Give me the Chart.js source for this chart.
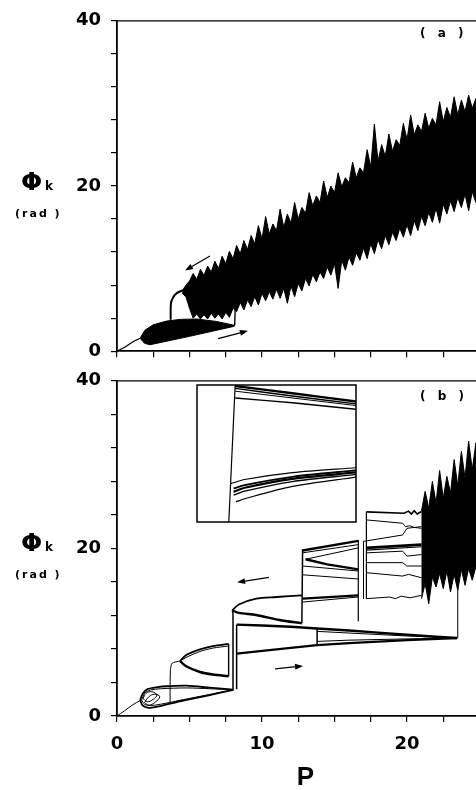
<!DOCTYPE html>
<html>
<head>
<meta charset="utf-8">
<title>Phi_k vs P</title>
<script src="https://cdn.jsdelivr.net/npm/chart.js@4.4.1/dist/chart.umd.min.js"></script>
<style>
  html, body { margin: 0; padding: 0; background: #fff; width: 476px; height: 790px; overflow: hidden; }
  canvas { position: absolute; }
  #chartA { left: 0; top: 0; }
  #chartB { left: 0; top: 360px; }
  #chartInset { left: 196px; top: 384px; }
</style>
</head>
<body>
<canvas id="chartA" width="560" height="372"></canvas>
<canvas id="chartB" width="560" height="430"></canvas>
<canvas id="chartInset" width="161" height="139"></canvas>
<script>
// tick labels
const yTickLabels = [0, 20, 40];
const xTickLabels = [0, 10, 20];

// ---- panel (a): [P, Phi_k] ----
const aRise = [[0, 0], [0.5, 0.45], [1.1, 1.15], [1.59, 1.56]];
const aLensTop = [[1.59, 1.56], [1.93, 2.55], [2.5, 3.2], [3.43, 3.65], [4.34, 3.85], [5.5, 3.9], [6.87, 3.6], [8.05, 3.15]];
const aLensBottom = [[1.59, 1.56], [1.9, 0.95], [2.28, 0.78], [5.0, 1.8], [8.05, 3.0]];
const aHump = [[3.7, 3.8], [3.72, 5.8], [3.85, 6.45], [4.1, 7.0], [4.5, 7.35], [5.0, 7.6]];
const aStep = [[8.05, 3.1], [8.12, 3.2], [8.15, 5.2]];
const aBandTop = [[4.5,7.3],[4.75,8.0],[5,8.5],[5.25,9.4],[5.5,8.7],[5.75,9.9],[6,9.2],[6.25,10.3],[6.5,9.6],[6.75,10.9],[7,10.0],[7.25,11.5],[7.5,10.6],[7.75,12.1],[8,11.2],[8.25,12.8],[8.5,11.8],[8.75,13.4],[9,12.3],[9.25,14.0],[9.5,13.0],[9.75,15.2],[10,13.6],[10.25,16.3],[10.5,14.2],[10.75,15.4],[11,14.6],[11.25,17.2],[11.5,15.0],[11.75,16.6],[12,15.5],[12.25,18.0],[12.5,16.0],[12.75,17.4],[13,16.7],[13.25,19.2],[13.5,17.6],[13.75,18.8],[14,18.0],[14.25,20.6],[14.5,18.6],[14.75,20.0],[15,19.2],[15.25,21.6],[15.5,19.9],[15.75,21.0],[16,20.4],[16.25,22.9],[16.5,21.0],[16.75,22.2],[17,21.6],[17.25,24.4],[17.5,22.3],[17.75,27.5],[18,23.0],[18.25,25.0],[18.5,23.6],[18.75,26.3],[19,24.2],[19.25,25.6],[19.5,24.9],[19.75,27.6],[20,25.6],[20.25,28.6],[20.5,26.2],[20.75,27.4],[21,26.6],[21.25,28.8],[21.5,27.0],[21.75,28.2],[22,27.4],[22.25,30.2],[22.5,27.8],[22.75,29.5],[23,28.3],[23.25,30.8],[23.5,28.6],[23.75,30.4],[24,29.0],[24.25,31.0],[24.5,29.4],[24.75,30.6],[25,29.8],[25.25,31.2],[25.5,30.2],[25.75,31.0],[26,30.5]];
const aBandBottom = [[4.5,7.0],[4.75,6.6],[5,5.2],[5.25,4.0],[5.5,4.5],[5.75,3.9],[6,4.4],[6.25,3.9],[6.5,4.6],[6.75,4.0],[7,4.5],[7.25,3.9],[7.5,4.7],[7.75,4.1],[8,5.2],[8.25,4.8],[8.5,5.9],[8.75,5.0],[9,6.2],[9.25,5.4],[9.5,6.6],[9.75,5.6],[10,7.0],[10.25,6.1],[10.5,7.2],[10.75,6.3],[11,7.5],[11.25,6.4],[11.5,7.6],[11.75,5.8],[12,7.9],[12.25,6.6],[12.5,8.2],[12.75,7.3],[13,8.8],[13.25,7.9],[13.5,9.3],[13.75,8.4],[14,9.6],[14.25,8.8],[14.5,10.2],[14.75,9.2],[15,10.6],[15.25,7.6],[15.5,11.0],[15.75,9.8],[16,11.4],[16.25,10.4],[16.5,11.9],[16.75,11.0],[17,12.5],[17.25,11.2],[17.5,13.0],[17.75,11.8],[18,13.5],[18.25,12.4],[18.5,14.0],[18.75,12.9],[19,14.4],[19.25,13.4],[19.5,14.9],[19.75,13.8],[20,15.3],[20.25,14.0],[20.5,15.8],[20.75,14.6],[21,16.3],[21.25,15.2],[21.5,16.8],[21.75,15.6],[22,17.3],[22.25,15.5],[22.5,17.8],[22.75,16.6],[23,18.2],[23.25,16.9],[23.5,18.6],[23.75,17.4],[24,19.0],[24.25,17.0],[24.5,19.3],[24.75,18.0],[25,19.6],[25.25,18.6],[25.5,20.0],[25.75,19.0],[26,20.3]];
const aArrows = [[6.41, 11.53, 4.69, 9.76], [6.97, 1.53, 9.03, 2.47]];

// ---- panel (b) ----
const bRise = [[0, 0], [0.5, 0.6], [1.1, 1.35], [1.6, 1.85]];
const bUpper1 = [[1.6,1.9],[1.75,2.6],[2.1,3.2],[2.8,3.45],[3.5,3.55],[4.8,3.62],[6.4,3.38],[8.02,3.13]];
const bUpper2 = [[1.7,1.9],[1.9,2.7],[2.3,3.1],[3.0,3.25],[4.8,3.35],[6.4,3.25],[8.02,3.13]];
const bLower1 = [[1.6,1.9],[1.75,1.3],[2.1,1.0],[2.6,1.05],[4.57,1.85],[6.4,2.5],[8.02,3.13]];
const bLower2 = [[1.7,1.9],[1.9,1.4],[2.3,1.25],[3.0,1.4],[4.57,1.95],[8.02,3.13]];
const bLoopA = [[1.8,2.1],[2.0,2.7],[2.4,2.9],[2.75,2.5],[2.5,2.0],[2.1,1.7],[1.8,2.1]];
const bLoopB = [[1.9,1.6],[2.2,2.3],[2.6,2.6],[2.95,2.3],[2.6,1.6],[2.2,1.3],[1.9,1.6]];
const bJump1 = [[3.66,1.55],[3.68,5.5],[3.8,6.3],[4.34,6.57]];
const bT2Up1 = [[4.34,6.57],[4.8,7.3],[5.72,7.95],[6.6,8.35],[7.7,8.6]];
const bT2Up2 = [[4.34,6.57],[4.9,7.1],[5.72,7.7],[6.6,8.1],[7.7,8.35]];
const bT2Low = [[4.34,6.57],[4.8,5.9],[5.72,5.25],[6.6,4.95],[7.7,4.75]];
const bClose2 = [[7.7,4.75],[7.7,8.6]];
const bJump2 = [[8.02,3.13],[8.0,12.3],[7.95,12.6]];
const bT3Up = [[7.95,12.6],[8.4,13.3],[9.6,14.0],[11,14.2],[12.75,14.4]];
const bT3Low = [[7.95,12.6],[8.4,12.3],[9.6,12.05],[11.2,11.46],[12.75,11.06]];
const bJump3 = [[12.75,11.06],[12.8,19.9]];
const bJumpC = [[8.25,3.2],[8.25,10.9]];
const bLongTop = [[8.25,10.9],[10,10.8],[12,10.65],[13.8,10.45],[16,10.2],[18,9.95],[20,9.7],[22,9.45],[23.45,9.3]];
const bLongBottom = [[8.25,7.45],[11,7.95],[13.8,8.45],[16,8.7],[20,9.05],[23.45,9.3]];
const bLensMid1 = [[13.8,10.1],[16,9.9],[20,9.55],[23.45,9.3]];
const bLensMid2 = [[13.8,8.9],[16,9.05],[20,9.2],[23.45,9.3]];
const bBulge = [[13.8,8.4],[13.8,10.5]];
const bJump4 = [[23.45,9.3],[23.5,17.2]];
const bR4a = [[12.8,19.75],[16.64,20.9]];
const bR4b = [[12.8,19.47],[16.64,20.45]];
const bR4c = [[13.0,18.7],[16.64,20.06]];
const bR4d = [[13.0,18.7],[14.5,18.1],[16.64,17.5]];
const bR4e = [[12.8,17.9],[16.64,17.3]];
const bR4f = [[12.8,16.85],[16.64,16.35]];
const bR4g = [[12.8,14.0],[16.64,14.4]];
const bR4h = [[12.8,13.6],[16.64,14.2]];
const bR4v1 = [[16.64,21.0],[16.64,11.3]];
const bR4v2 = [[17.0,20.8],[17.0,14.0]];
const bR4v3 = [[17.2,24.36],[17.2,14.0]];
const bR5a = [[17.2,24.36],[19.8,24.2],[20.1,24.45],[20.3,24.1],[20.5,24.5],[20.7,24.1],[21.0,24.4]];
const bR5b = [[17.2,23.4],[19.7,23.0],[19.9,22.6],[20.2,22.7],[20.5,22.5],[21.0,22.4]];
const bR5c = [[17.0,20.84],[19.7,21.6],[20.0,22.4],[21.0,22.6]];
const bR5d = [[17.2,20.06],[21.0,20.45]];
const bR5d2 = [[17.2,19.8],[21.0,20.2]];
const bR5e = [[17.2,19.47],[19.7,19.67],[20.0,19.08],[21.0,19.27]];
const bR5f = [[17.2,18.3],[19.7,18.3],[19.98,17.9],[21.0,17.9]];
const bR5g = [[17.2,17.1],[19.7,16.7],[20.1,16.9],[21.0,16.5]];
const bR5h = [[17.2,14.0],[18.8,14.2],[19.2,14.0],[19.6,14.3],[20.2,14.1],[21.0,14.4]];
const bNoiseTop = [[21.0,24.5],[21.25,26.8],[21.5,24.8],[21.75,28.0],[22.0,25.4],[22.25,29.3],[22.5,26.0],[22.75,28.6],[23.0,26.6],[23.25,30.6],[23.5,27.5],[23.75,31.6],[24.0,28.4],[24.25,32.8],[24.5,29.4],[24.75,32.6],[25.0,30.2],[25.25,33.2],[25.5,30.8],[25.75,33.0],[26.0,31.2]];
const bNoiseBottom = [[21.0,14.0],[21.25,15.8],[21.5,13.4],[21.75,16.6],[22.0,15.4],[22.25,17.0],[22.5,15.2],[22.75,17.3],[23.0,14.8],[23.25,16.9],[23.5,15.0],[23.75,17.5],[24.0,15.6],[24.25,17.6],[24.5,16.2],[24.75,17.8],[25.0,16.5],[25.25,18.0],[25.5,16.8],[25.75,18.2],[26.0,17.2]];
const bArrows = [[10.48, 16.54, 8.28, 15.95], [10.9, 5.63, 12.83, 5.98]];

// ---- inset (normalised units) ----
const inWall = [[0.2, 0], [0.24, 1]];
const inTop1 = [[0.24,0.993],[0.6,0.94],[1.0,0.879]];
const inTop2 = [[0.24,0.975],[0.6,0.92],[1.0,0.862]];
const inTop3 = [[0.24,0.955],[1.0,0.85]];
const inTop4 = [[0.24,0.905],[0.6,0.87],[1.0,0.823]];
const inLow1 = [[0.2125,0.28],[0.3,0.31],[0.6,0.36],[1.0,0.396]];
const inLow2 = [[0.23,0.245],[0.3,0.27],[0.6,0.33],[1.0,0.377]];
const inLow3 = [[0.23,0.22],[0.3,0.25],[0.6,0.315],[1.0,0.362]];
const inLow4 = [[0.23,0.196],[0.3,0.225],[0.6,0.295],[1.0,0.348]];
const inLow5 = [[0.245,0.147],[0.3,0.17],[0.6,0.26],[1.0,0.328]];

// helpers
const pts = arr => arr.map(([x, y]) => ({ x, y }));
const line = (arr, w = 1, tension = 0) => ({
  data: pts(arr), showLine: true, borderColor: '#000', borderWidth: w,
  pointRadius: 0, fill: false, tension
});
const shape = (top, bottom) => ({
  data: pts(top.concat(bottom.slice().reverse())), showLine: true,
  borderColor: '#000', borderWidth: 1, backgroundColor: '#000',
  pointRadius: 0, fill: 'shape', tension: 0
});

const framePlugin = {
  id: 'frame',
  afterDraw(chart, args, opts) {
    const { ctx, chartArea: a } = chart;
    ctx.save();
    ctx.strokeStyle = '#000';
    ctx.lineWidth = opts.width || 1.2;
    if (opts.box) {
      ctx.strokeRect(a.left, a.top, a.right - a.left, a.bottom - a.top);
    } else {
      ctx.beginPath(); ctx.moveTo(a.left, a.top); ctx.lineTo(a.right, a.top); ctx.stroke();
    }
    ctx.restore();
  }
};

const arrowPlugin = {
  id: 'arrows',
  afterDatasetsDraw(chart, args, opts) {
    if (!opts.list) return;
    const { ctx, scales: { x, y } } = chart;
    ctx.save();
    ctx.strokeStyle = '#000'; ctx.fillStyle = '#000'; ctx.lineWidth = 1.2;
    opts.list.forEach(([x1, y1, x2, y2]) => {
      const ax = x.getPixelForValue(x1), ay = y.getPixelForValue(y1);
      const bx = x.getPixelForValue(x2), by = y.getPixelForValue(y2);
      const ang = Math.atan2(by - ay, bx - ax);
      const c = Math.cos(ang), s = Math.sin(ang);
      ctx.beginPath(); ctx.moveTo(ax, ay); ctx.lineTo(bx - 5 * c, by - 5 * s); ctx.stroke();
      ctx.beginPath();
      ctx.moveTo(bx, by);
      ctx.lineTo(bx - 8 * c + 3 * s, by - 8 * s - 3 * c);
      ctx.lineTo(bx - 8 * c - 3 * s, by - 8 * s + 3 * c);
      ctx.closePath(); ctx.fill();
    });
    ctx.restore();
  }
};

const textPlugin = {
  id: 'texts',
  afterDraw(chart, args, opts) {
    if (!opts.tag) return;
    const ctx = chart.ctx;
    ctx.save();
    ctx.fillStyle = '#000';
    ctx.textBaseline = 'alphabetic';
    ctx.font = 'bold 25px "DejaVu Sans"';
    ctx.fillText('Φ', 21, opts.phiY);
    ctx.font = 'bold 12px "DejaVu Sans"';
    ctx.fillText('k', 45, opts.phiY);
    ctx.font = 'bold 11px "DejaVu Sans"';
    ctx.letterSpacing = '2px';
    ctx.fillText('(rad )', 15, opts.phiY + 27);
    ctx.font = 'bold 12px "DejaVu Sans"';
    ctx.letterSpacing = '4px';
    ctx.fillText(opts.tag, 420, opts.tagY);
    ctx.restore();
  }
};

const tickFont = { family: 'DejaVu Sans', size: 18, weight: 'bold' };

function axes(withLabels) {
  return {
    x: {
      type: 'linear', min: 0, max: 26,
      ticks: {
        stepSize: 2.5, autoSkip: false, maxRotation: 0, color: '#000', font: tickFont, padding: 12,
        callback: v => (withLabels && xTickLabels.includes(v) ? String(v) : '')
      },
      grid: { drawOnChartArea: false, drawTicks: true, tickLength: 6, color: '#000', lineWidth: 1.2 },
      border: { display: true, color: '#000', width: 1.8 },
      title: withLabels
        ? { display: true, text: 'P', color: '#000', font: { family: 'Liberation Sans', size: 26, weight: 'bold' }, padding: { top: 0, bottom: -3 } }
        : { display: false },
      afterFit: s => { s.height = withLabels ? 74 : 17; }
    },
    y: {
      type: 'linear', min: 0, max: 40,
      ticks: {
        stepSize: 4, autoSkip: false, color: '#000', font: tickFont, padding: 10,
        callback: v => (yTickLabels.includes(v) ? String(v) : '')
      },
      grid: { drawOnChartArea: false, drawTicks: true, tickLength: 6, color: '#000', lineWidth: 1.2 },
      border: { display: true, color: '#000', width: 1.8 },
      afterFit: s => { s.width = 117; }
    }
  };
}

function panelOptions(withLabels, arrows, tag, phiY, tagY) {
  return {
    responsive: false, animation: false, events: [],
    layout: { padding: { top: 15, right: 66, bottom: 0, left: 0 } },
    scales: axes(withLabels),
    plugins: {
      legend: { display: false }, tooltip: { enabled: false },
      frame: {}, arrows: { list: arrows }, texts: { tag, phiY, tagY }
    }
  };
}

new Chart(document.getElementById('chartA'), {
  type: 'scatter',
  data: {
    datasets: [
      line(aRise, 1.2, 0.3),
      shape(aLensTop, aLensBottom),
      line(aHump, 2, 0.3),
      line(aStep, 1.4),
      shape(aBandTop, aBandBottom)
    ]
  },
  options: panelOptions(false, aArrows, '( a )', 190, 37),
  plugins: [framePlugin, arrowPlugin, textPlugin]
});

new Chart(document.getElementById('chartB'), {
  type: 'scatter',
  data: {
    datasets: [
      line(bRise, 1, 0.3),
      line(bUpper1, 1.8, 0.3), line(bUpper2, 1, 0.3),
      line(bLower1, 1.8, 0.3), line(bLower2, 1, 0.3),
      line(bLoopA, 1, 0.4), line(bLoopB, 1, 0.4),
      line(bJump1, 1, 0.2),
      line(bT2Up1, 1.8, 0.3), line(bT2Up2, 1, 0.3), line(bT2Low, 2.4, 0.3), line(bClose2, 1.4),
      line(bJump2, 1.5),
      line(bT3Up, 1.8, 0.3), line(bT3Low, 2.4, 0.3), line(bJump3, 1.5),
      line(bJumpC, 1.5),
      line(bLongTop, 2.4), line(bLongBottom, 2.2), line(bLensMid1, 1), line(bLensMid2, 1),
      line(bBulge, 1.5), line(bJump4, 1),
      line(bR4a, 2.4), line(bR4b, 1), line(bR4c, 1), line(bR4d, 2.4), line(bR4e, 1),
      line(bR4f, 1), line(bR4g, 2.2), line(bR4h, 1),
      line(bR4v1, 1.2), line(bR4v2, 1), line(bR4v3, 1.2),
      line(bR5a, 1.6), line(bR5b, 1), line(bR5c, 1), line(bR5d, 2.6), line(bR5d2, 1.2),
      line(bR5e, 1), line(bR5f, 1), line(bR5g, 1), line(bR5h, 1),
      shape(bNoiseTop, bNoiseBottom)
    ]
  },
  options: panelOptions(true, bArrows, '( b )', 191, 40),
  plugins: [framePlugin, arrowPlugin, textPlugin]
});

new Chart(document.getElementById('chartInset'), {
  type: 'scatter',
  data: {
    datasets: [
      line(inWall, 1.2),
      line(inTop1, 2.4, 0.3), line(inTop2, 1.4, 0.3), line(inTop3, 1), line(inTop4, 1.4, 0.3),
      line(inLow1, 1.2, 0.3), line(inLow2, 1.8, 0.3), line(inLow3, 2.2, 0.3),
      line(inLow4, 1.4, 0.3), line(inLow5, 1.2, 0.3)
    ]
  },
  options: {
    responsive: false, animation: false, events: [],
    layout: { padding: 1 },
    scales: {
      x: { type: 'linear', min: 0, max: 1, display: false },
      y: { type: 'linear', min: 0, max: 1, display: false }
    },
    plugins: { legend: { display: false }, tooltip: { enabled: false }, frame: { box: true, width: 1.5 } }
  },
  plugins: [framePlugin]
});
</script>
</body>
</html>
